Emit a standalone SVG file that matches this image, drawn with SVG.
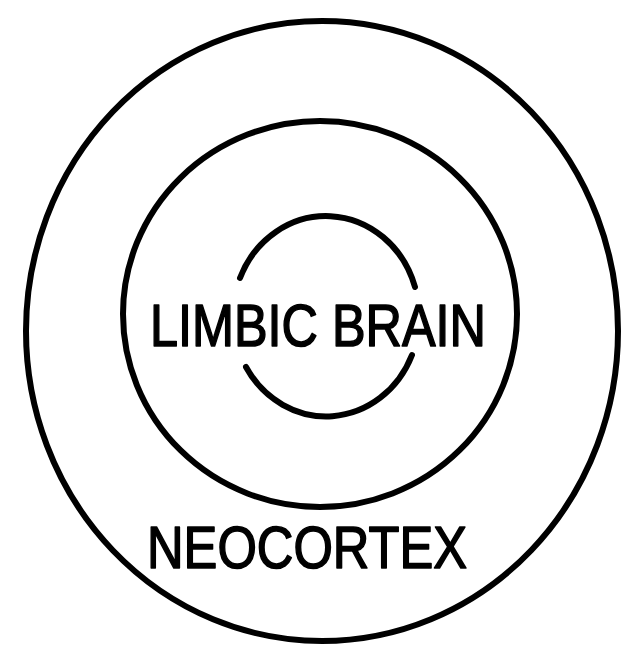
<svg xmlns="http://www.w3.org/2000/svg" width="640" height="654" viewBox="0 0 640 654">
<style>
.ring{fill:none;stroke:#000;stroke-width:6;stroke-linecap:round}
.lbl{font-family:"Liberation Sans","DejaVu Sans",sans-serif;font-size:60px;fill:#000;stroke:#000;stroke-width:1.6;stroke-linejoin:round}
</style>
<rect width="640" height="654" fill="#fff"/>
<g id="neocortex">
<ellipse class="ring" cx="322" cy="331" rx="296" ry="310"/>
<text class="lbl" x="147" y="568" textLength="320" lengthAdjust="spacingAndGlyphs">NEOCORTEX</text>
</g>
<g id="limbic">
<ellipse class="ring" cx="320" cy="314" rx="197" ry="193"/>
</g>
<g id="reptilian">
<path class="ring" d="M 240 278 A 93 100 0 0 1 415 287"/>
<path class="ring" d="M 246 367 A 93 100 0 0 0 412 355"/>
<text class="lbl" x="150" y="346" textLength="336" lengthAdjust="spacingAndGlyphs">LIMBIC BRAIN</text>
</g>
</svg>
